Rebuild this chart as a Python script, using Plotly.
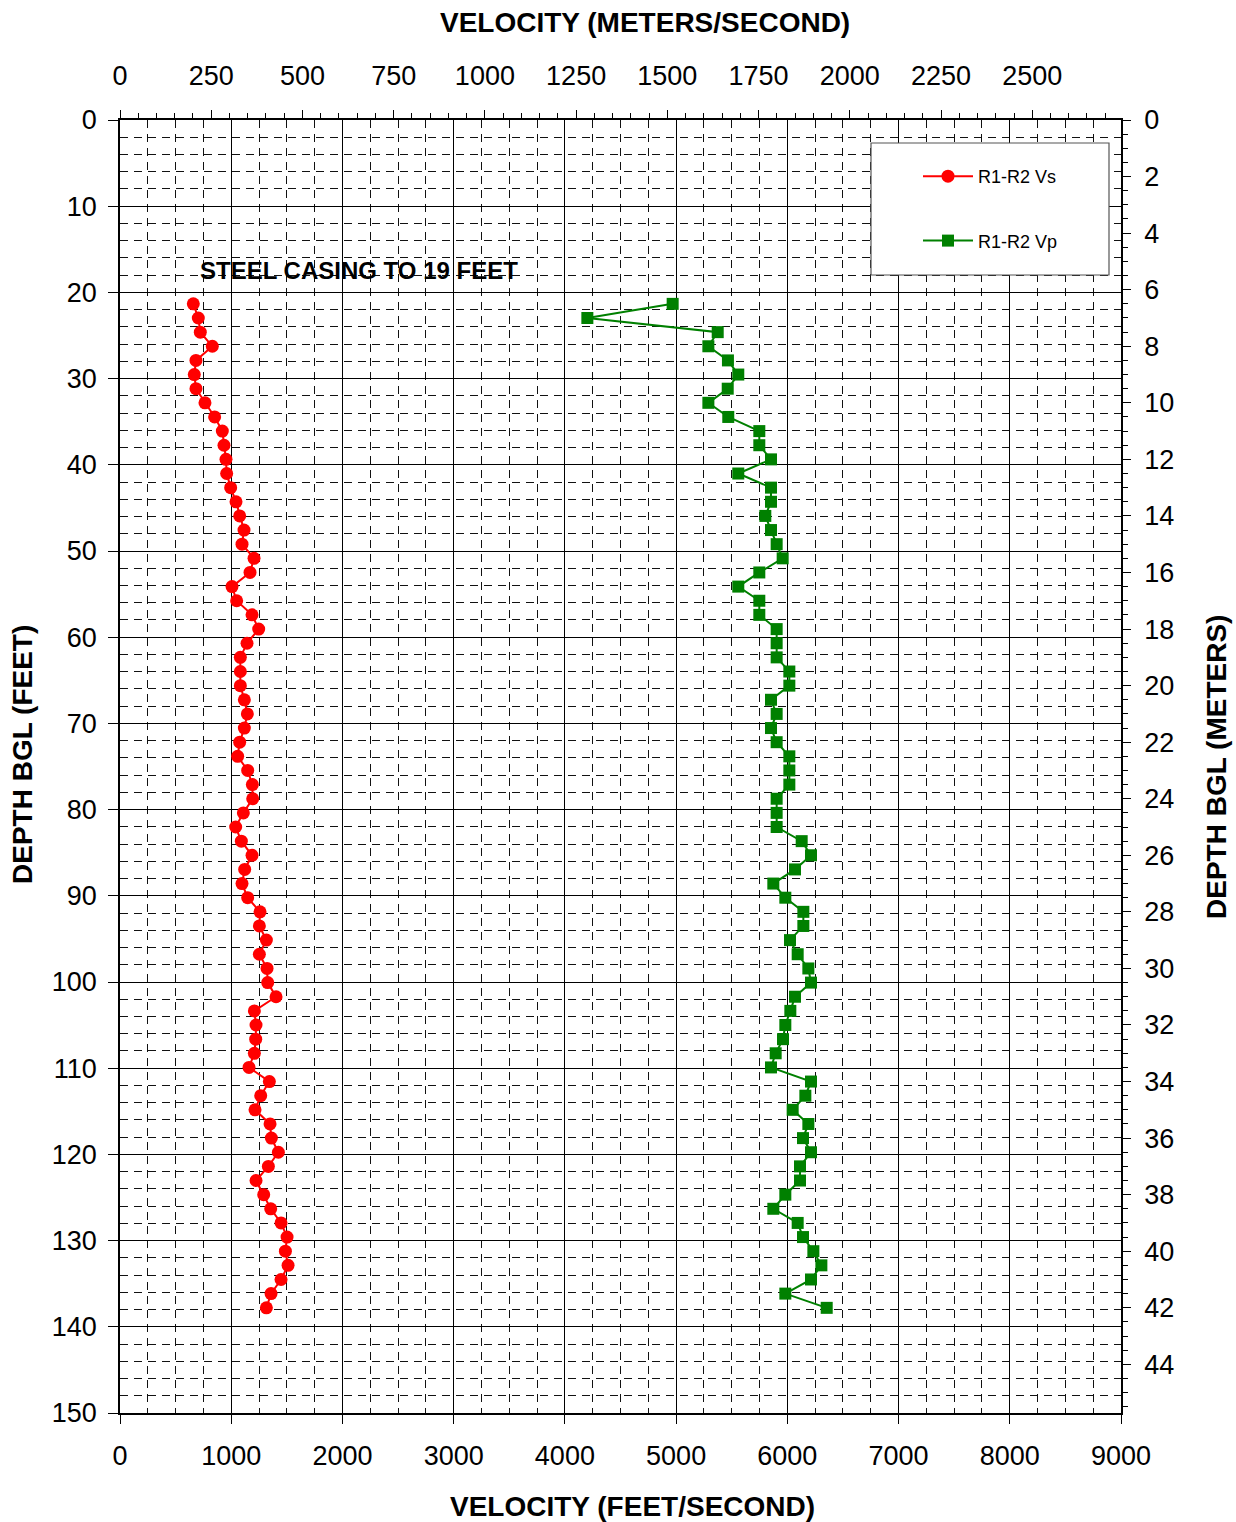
import plotly.graph_objects as go

# Depth of each measurement (feet below ground level)
depth_ft = [21.33, 22.97, 24.61, 26.25, 27.89, 29.53, 31.17, 32.81, 34.45, 36.09,
            37.73, 39.37, 41.01, 42.65, 44.29, 45.93, 47.57, 49.21, 50.85, 52.49,
            54.13, 55.77, 57.41, 59.06, 60.70, 62.34, 63.98, 65.62, 67.26, 68.90,
            70.54, 72.18, 73.82, 75.46, 77.10, 78.74, 80.38, 82.02, 83.66, 85.30,
            86.94, 88.58, 90.22, 91.86, 93.50, 95.14, 96.78, 98.43, 100.07, 101.71,
            103.35, 104.99, 106.63, 108.27, 109.91, 111.55, 113.19, 114.83, 116.47, 118.11,
            119.75, 121.39, 123.03, 124.67, 126.31, 127.95, 129.59, 131.23, 132.87, 134.51,
            136.15, 137.80]

# Shear-wave velocity, R1-R2 (ft/s)
vs_fps = [659, 704, 722, 830, 683, 668, 683, 764, 851, 920,
          935, 953, 959, 995, 1043, 1076, 1115, 1097, 1205, 1169,
          1007, 1049, 1187, 1247, 1142, 1082, 1082, 1082, 1118, 1145,
          1118, 1076, 1058, 1148, 1190, 1193, 1109, 1040, 1091, 1187,
          1121, 1097, 1148, 1259, 1253, 1316, 1253, 1322, 1328, 1403,
          1208, 1223, 1220, 1208, 1160, 1343, 1265, 1214, 1349, 1361,
          1424, 1334, 1223, 1292, 1355, 1448, 1502, 1487, 1511, 1448,
          1358, 1316]

# Compression-wave velocity, R1-R2 (ft/s)
vp_fps = [4969, 4202, 5374, 5290, 5466, 5559, 5464, 5290, 5469, 5748,
          5748, 5853, 5559, 5853, 5853, 5802, 5853, 5904, 5958, 5748,
          5559, 5748, 5748, 5904, 5904, 5904, 6018, 6018, 5853, 5904,
          5853, 5904, 6018, 6018, 6018, 5904, 5904, 5904, 6129, 6213,
          6069, 5874, 5982, 6144, 6144, 6024, 6093, 6189, 6213, 6069,
          6027, 5982, 5961, 5895, 5853, 6213, 6162, 6048, 6189, 6141,
          6213, 6114, 6114, 5982, 5874, 6093, 6141, 6234, 6306, 6213,
          5982, 6354]

series_names = ["R1-R2 Vs", "R1-R2 Vp"]
note_text = "STEEL CASING TO 19 FEET"

FT_TO_M = 0.3048
X_MAX_FPS = 9000
Y_MAX_FT = 150

FONT = "Liberation Sans, Arial, sans-serif"
W, H = 1236, 1522
ML, MR, MT, MB = 120, 115, 120, 109
PW, PH = W - ML - MR, H - MT - MB


def px_to_paper(px, py):
    return (px - ML) / PW, (H - MB - py) / PH


fig = go.Figure()

fig.add_trace(go.Scatter(
    x=vs_fps, y=depth_ft, name=series_names[0], legendgroup="vs",
    mode="lines+markers",
    line=dict(color="#FF0000", width=2),
    marker=dict(symbol="circle", size=13, color="#FF0000", line=dict(width=0)),
))
fig.add_trace(go.Scatter(
    x=vp_fps, y=depth_ft, name=series_names[1], legendgroup="vp",
    mode="lines+markers",
    line=dict(color="#008000", width=2),
    marker=dict(symbol="square", size=12, color="#008000", line=dict(width=0)),
))
# Carrier trace so the metric axes (top / right) are drawn
fig.add_trace(go.Scatter(
    x=[0], y=[0], xaxis="x2", yaxis="y2", mode="markers",
    marker=dict(opacity=0), showlegend=False, hoverinfo="skip",
))

tick_font = dict(family=FONT, size=27, color="black")
major_grid = dict(showgrid=True, gridcolor="black", gridwidth=1)
minor_dash = "8px,6px"

fig.update_layout(
    width=W, height=H,
    margin=dict(l=ML, r=MR, t=MT, b=MB, pad=0),
    paper_bgcolor="white", plot_bgcolor="white",
    font=dict(family=FONT, color="black"),
    xaxis=dict(
        range=[0, X_MAX_FPS], dtick=1000, tick0=0,
        ticks="outside", ticklen=9, tickwidth=1, tickcolor="black",
        tickfont=tick_font, ticklabelstandoff=9,
        showline=True, linecolor="black", linewidth=2,
        zeroline=False, **major_grid,
        minor=dict(dtick=250, showgrid=True, gridcolor="#111111",
                   gridwidth=1, griddash=minor_dash, ticks=""),
    ),
    xaxis2=dict(
        overlaying="x", side="top", anchor="y",
        range=[0, X_MAX_FPS * FT_TO_M], dtick=250, tick0=0,
        ticks="outside", ticklen=8, tickwidth=1, tickcolor="black",
        tickfont=tick_font, ticklabelstandoff=14,
        tickvals=list(range(0, 2501, 250)),
        showline=True, linecolor="black", linewidth=1.5,
        showgrid=False, zeroline=False,
        minor=dict(dtick=50, tick0=0, ticks="outside", ticklen=5,
                   tickcolor="black", showgrid=False),
    ),
    yaxis=dict(
        range=[Y_MAX_FT, 0], dtick=10, tick0=0,
        ticks="outside", ticklen=10, tickwidth=1, tickcolor="black",
        tickfont=tick_font, ticklabelstandoff=6,
        showline=True, linecolor="black", linewidth=1.5,
        zeroline=False, **major_grid,
        minor=dict(dtick=2, showgrid=True, gridcolor="#111111",
                   gridwidth=1, griddash=minor_dash, ticks=""),
    ),
    yaxis2=dict(
        overlaying="y", side="right", anchor="x",
        range=[Y_MAX_FT * FT_TO_M, 0], dtick=2, tick0=0,
        tickvals=list(range(0, 45, 2)),
        ticks="outside", ticklen=8, tickwidth=1, tickcolor="black",
        tickfont=tick_font, ticklabelstandoff=8,
        showline=True, linecolor="black", linewidth=1.5,
        showgrid=False, zeroline=False,
        minor=dict(dtick=0.5, tick0=0, ticks="outside", ticklen=5,
                   tickcolor="black", showgrid=False),
    ),
    showlegend=True,
    legend=dict(
        x=px_to_paper(918, 0)[0], y=px_to_paper(0, 158)[1],
        xanchor="left", yanchor="top",
        bgcolor="rgba(0,0,0,0)", borderwidth=0,
        font=dict(family=FONT, size=18, color="black"),
        traceorder="grouped", tracegroupgap=38,
        itemwidth=50,
    ),
)

# Legend frame
lx0, ly1 = px_to_paper(871, 143)
lx1, ly0 = px_to_paper(1109, 275)
fig.add_shape(type="rect", xref="paper", yref="paper",
              x0=lx0, x1=lx1, y0=ly0, y1=ly1,
              line=dict(color="#555555", width=1.2), fillcolor="white",
              layer="above")

# Casing note
fig.add_annotation(x=705, y=17.5, xref="x", yref="y", text=f"<b>{note_text}</b>",
                   showarrow=False, xanchor="left", yanchor="middle",
                   font=dict(family=FONT, size=24, color="black"))

# Axis titles
title_font = dict(family=FONT, size=28, color="black")
for text, (px, py), angle in [
    ("VELOCITY (METERS/SECOND)", (645, 23), 0),
    ("VELOCITY (FEET/SECOND)", (632, 1506), 0),
    ("DEPTH BGL (FEET)", (22, 755), -90),
    ("DEPTH BGL (METERS)", (1216, 767), -90),
]:
    xp, yp = px_to_paper(px, py)
    fig.add_annotation(x=xp, y=yp, xref="paper", yref="paper",
                       text=f"<b>{text}</b>", showarrow=False,
                       xanchor="center", yanchor="middle", textangle=angle,
                       font=title_font)

fig.write_html("out.html")
